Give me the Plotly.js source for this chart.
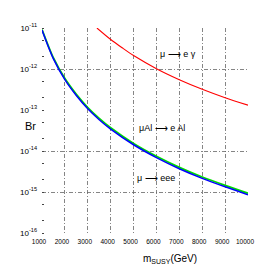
<!DOCTYPE html>
<html><head><meta charset="utf-8">
<script src="https://cdn.plot.ly/plotly-3.0.1.min.js"></script>
<style>body{margin:0;background:#fff}#c{width:276px;height:276px}</style>
</head><body><div id="c"></div>
<script>
const mGamma = [3400, 4000, 4500, 5000, 6000, 7000, 8000, 9000, 10000];
const brGamma = [1.0e-11, 5.25e-12, 3.3e-12, 2.13e-12, 1.02e-12, 5.5e-13, 3.21e-13, 2.0e-13, 1.31e-13];
const mLow = [1000, 1500, 2000, 2500, 3000, 3500, 4000, 5000, 6000, 7000, 8000, 9000, 10000];
const brEee = [8.9e-12, 1.76e-12, 5.5e-13, 2.26e-13, 1.07e-13, 5.8e-14, 3.42e-14, 1.42e-14, 6.9e-15, 3.7e-15, 2.15e-15, 1.34e-15, 8.6e-16];
const brAl = [9.2e-12, 1.86e-12, 5.85e-13, 2.42e-13, 1.15e-13, 6.25e-14, 3.68e-14, 1.53e-14, 7.45e-15, 4.0e-15, 2.32e-15, 1.45e-15, 9.3e-16];
const xTicks = [1000,2000,3000,4000,5000,6000,7000,8000,9000,10000];
const xGrid = [2000,3000,4000,5000,6000,7000,8000,9000];
const yTicks = [1e-16,1e-15,1e-14,1e-13,1e-12,1e-11];
const yTickText = ['10<sup>-16</sup>','10<sup>-15</sup>','10<sup>-14</sup>','10<sup>-13</sup>','10<sup>-12</sup>','10<sup>-11</sup>'];
const yGrid = [1e-15,1e-14,1e-12];
const labels = [
  {text:'μ ⟶ e γ', x:6940, y:2.3e-12},
  {text:'μAl ⟶ e Al', x:6250, y:3.6e-14},
  {text:'μ ⟶ eee', x:5980, y:2.2e-15}
];

const traces = [
  {x:mGamma, y:brGamma, mode:'lines', line:{color:'#ff0000', width:1.1, shape:'spline', smoothing:0.8}, hoverinfo:'none'},
  {x:mLow, y:brAl, mode:'lines', line:{color:'#00dd00', width:1.8, shape:'spline', smoothing:0.8}, hoverinfo:'none'},
  {x:mLow, y:brEee, mode:'lines', line:{color:'#0000ff', width:1.5, shape:'spline', smoothing:0.8}, hoverinfo:'none'},
  {x:[1000], y:[1e-16], xaxis:'x2', yaxis:'y2', mode:'markers', marker:{opacity:0}, hoverinfo:'none'}
];
const font = {family:'Liberation Sans, Arial, sans-serif', color:'#000'};
const gridStyle = {gridcolor:'#666', gridwidth:0.8, griddash:'4px,2px,1px,2px'};
const layout = {
  width:276, height:276, showlegend:false,
  margin:{l:42, r:28, t:28, b:43},
  paper_bgcolor:'#fff', plot_bgcolor:'rgba(0,0,0,0)',
  font:font,
  xaxis:{range:[1000,10000], tickvals:xTicks, ticktext:xTicks.map(String), showgrid:false, zeroline:false, showline:false,
    ticks:'', tickfont:{size:6.5}, ticklabelstandoff:3, ticklabelshift:-3},
  yaxis:{type:'log', range:[-16,-11], tickvals:yTicks, ticktext:yTickText, showgrid:false, zeroline:false, showline:false,
    ticks:'', tickfont:{size:8}, ticklabelstandoff:4, minor:{ticks:'inside', ticklen:2, tickcolor:'#444', showgrid:false}},
  xaxis2:Object.assign({overlaying:'x', range:[1000,10000], tickvals:xGrid, showticklabels:false, showgrid:true, zeroline:false, ticks:''}, gridStyle),
  yaxis2:Object.assign({overlaying:'y', type:'log', range:[-16,-11], tickvals:yGrid, showticklabels:false, showgrid:true, zeroline:false, ticks:''}, gridStyle),
  annotations: labels.map(l=>({text:l.text, x:l.x, y:Math.log10(l.y), xref:'x', yref:'y', showarrow:false, font:{size:9}})).concat([
    {text:'Br', xref:'paper', yref:'paper', x:-0.02, y:0.52, xanchor:'right', showarrow:false, font:{size:11}},
    {text:'m<sub>SUSY</sub>(GeV)', xref:'paper', yref:'paper', x:0.62, y:-0.09, yanchor:'top', showarrow:false, font:{size:10}}
  ])
};
Plotly.newPlot('c', traces, layout, {staticPlot:true, displayModeBar:false});
</script></body></html>
